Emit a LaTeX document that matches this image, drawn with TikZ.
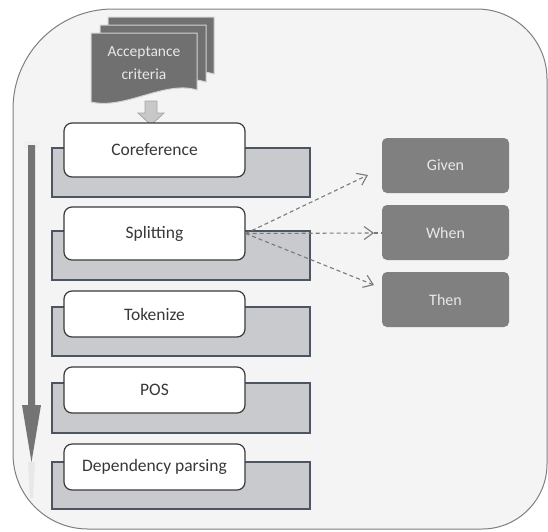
\documentclass[tikz,border=0pt]{standalone}
\usepackage{fontspec}
\setmainfont{Carlito}
\usetikzlibrary{arrows.meta}
\definecolor{panelfill}{HTML}{F4F4F4}
\definecolor{panelline}{HTML}{7F7F7F}
\definecolor{sheetfill}{HTML}{707070}
\definecolor{sheetline}{HTML}{D2D2D2}
\definecolor{bandfill}{HTML}{C9CACD}
\definecolor{bandline}{HTML}{4D5562}
\definecolor{stepline}{HTML}{3A3A3A}
\definecolor{steptext}{HTML}{383838}
\definecolor{partfill}{HTML}{808080}
\definecolor{parttext}{HTML}{E8E8E8}
\definecolor{flowbar}{HTML}{747474}
\definecolor{dashcol}{HTML}{7A7A7A}
\definecolor{feedfill}{HTML}{C8C8C8}
\definecolor{feedline}{HTML}{A5A5A5}
\tikzset{
  panel/.style={draw=panelline, fill=panelfill, line width=1pt},
  sheet/.style={draw=sheetline, fill=sheetfill, line width=1pt},
  band/.style={draw=bandline, fill=bandfill, line width=1.2pt, minimum width=258pt, inner sep=0pt},
  stepbox/.style={draw=stepline, fill=white, line width=1.2pt, rounded corners=8pt,
    minimum width=181pt, inner sep=0pt, text=steptext, font=\fontsize{17.5}{20}\selectfont},
  part/.style={fill=partfill, rounded corners=5pt, minimum width=127pt, minimum height=55pt,
    inner sep=0pt, text=parttext, font=\fontsize{16}{19}\selectfont},
  dashlink/.style={draw=dashcol, line width=1.1pt, dash pattern=on 4pt off 3pt},
  barb/.style={-{Straight Barb[length=9pt,width=13pt]}}
}
\begin{document}
\begin{tikzpicture}[x=1pt,y=-1pt]
\useasboundingbox (0,0) rectangle (548,531);

% outer panel with unequal corner radii
\draw[panel] (113,9) -- (477,9) arc[start angle=-90,end angle=0,radius=70]
  -- (547,464) arc[start angle=0,end angle=90,radius=65]
  -- (88,529) arc[start angle=90,end angle=180,radius=75]
  -- (13,109) arc[start angle=180,end angle=270,radius=100] -- cycle;

% processing-order arrow on the left
\fill[black!6] (24,141) rectangle (39,148);
\fill[black!9] (28,462) -- (35,462) -- (33,498) -- (30,498) -- cycle;
\fill[flowbar] (28,145) -- (35,145) -- (35,405) -- (41,405) -- (31.5,462)
  -- (22,405) -- (28,405) -- cycle;

% stack of acceptance-criteria documents
\draw[sheet] (108,17) -- (214,17) -- (214,74) .. controls (182,64) and (142,94) .. (108,86) -- cycle;
\draw[sheet] (100,25) -- (206,25) -- (206,82) .. controls (174,72) and (134,102) .. (100,94) -- cycle;
\draw[sheet] (91,33) -- (197,33) -- (197,90) .. controls (165,80) and (125,110) .. (91,102) -- cycle;
\node[align=center, text=parttext, font=\fontsize{15.5}{23}\selectfont] (acc) at (144,63)
  {Acceptance\\criteria};

% grey bands behind each step
\node[band, minimum height=49pt] (b1) at (181,172.5) {};
\node[band, minimum height=49pt] (b2) at (181,255.5) {};
\node[band, minimum height=49pt] (b3) at (181,331.5) {};
\node[band, minimum height=50pt] (b4) at (181,408) {};
\node[band, minimum height=47pt] (b5) at (181,485.5) {};

% feed arrow from the documents into the first step
\draw[fill=feedfill, draw=feedline, line width=0.8pt]
  (145,101) -- (157,101) -- (157,113) -- (164,113) -- (151,125) -- (138,113) -- (145,113) -- cycle;

% pipeline steps
\node[stepbox, minimum height=54pt] (coref) at (154.5,150) {Coreference};
\node[stepbox, minimum height=53pt] (split) at (154.5,233.5) {Splitting};
\node[stepbox, minimum height=46pt] (tok) at (154.5,314) {Tokenize};
\node[stepbox, minimum height=46pt] (pos) at (154.5,390) {POS};
\node[stepbox, minimum height=46pt] (dep) at (154.5,467) {Dependency parsing};

% Given / When / Then parts
\node[part] (given) at (445.5,165.5) {Given};
\node[part] (when) at (445.5,232.5) {When};
\node[part] (then) at (445.5,299.5) {Then};

% dashed links from Splitting
\coordinate (gtip) at (368,175);
\coordinate (wtip) at (374,233);
\coordinate (ttip) at (374,285);
\draw[dashlink, barb] (split.east) -- (gtip);
\draw[dashlink, barb] (split.east) -- (wtip);
\draw[dashlink] (wtip) -- (when.west |- wtip);
\draw[dashlink, barb] (split.east) -- (ttip);
\end{tikzpicture}
\end{document}
